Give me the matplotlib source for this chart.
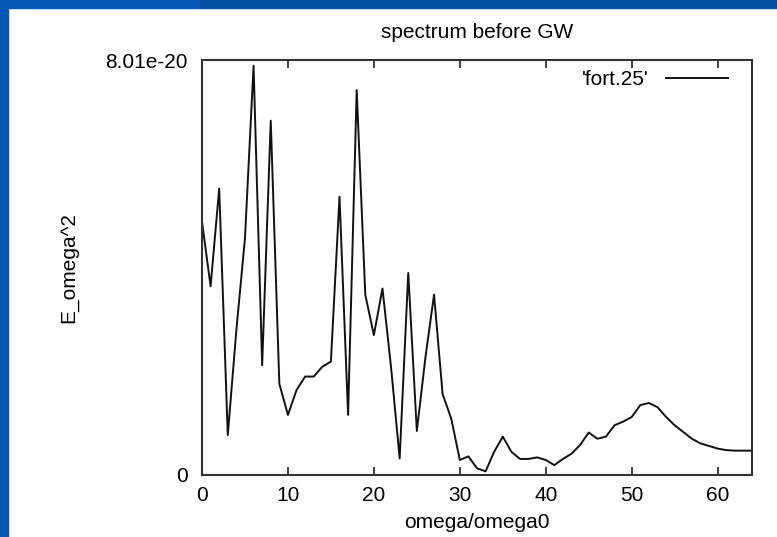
import numpy as np
import matplotlib.pyplot as plt
from matplotlib.patches import Rectangle

plt.rcParams['font.family'] = ['Liberation Sans', 'DejaVu Sans']

# omega/omega0 і значення спектра (в одиницях 1e-20)
omega = np.arange(0, 65)
e_vals = [4.89, 3.64, 5.53, 0.77, 2.80, 4.57, 7.90, 2.12, 6.84, 1.76,
          1.16, 1.64, 1.90, 1.90, 2.09, 2.19, 5.37, 1.16, 7.43, 3.48,
          2.70, 3.60, 2.08, 0.32, 3.90, 0.85, 2.27, 3.48, 1.56, 1.09,
          0.29, 0.36, 0.13, 0.07, 0.45, 0.74, 0.45, 0.31, 0.31, 0.34,
          0.29, 0.19, 0.31, 0.41, 0.58, 0.82, 0.70, 0.74, 0.96, 1.03,
          1.12, 1.35, 1.39, 1.31, 1.12, 0.96, 0.83, 0.70, 0.61, 0.56,
          0.51, 0.48, 0.47, 0.47, 0.47]
spectrum = np.array(e_vals) * 1e-20

y_max = 8.01e-20
x_ticks = [0, 10, 20, 30, 40, 50, 60]
y_ticks = [0, y_max]
y_ticklabels = ['0', '8.01e-20']

fig = plt.figure(figsize=(7.77, 5.37), dpi=100)
fig.patch.set_facecolor('white')

# синя рамка слайда
fig.patches.append(Rectangle((0, 0), 8 / 777, 1, transform=fig.transFigure,
                             color='#0758b4', zorder=-1))
fig.patches.append(Rectangle((0, 1 - 8 / 537), 200 / 777, 8 / 537,
                             transform=fig.transFigure, color='#0758b4', zorder=-1))
fig.patches.append(Rectangle((200 / 777, 1 - 8 / 537), 577 / 777, 8 / 537,
                             transform=fig.transFigure, color='#044ea6', zorder=-1))

ax = fig.add_axes([202 / 777, 62 / 537, 550 / 777, 415 / 537])
ax.plot(omega, spectrum, color='#111111', linewidth=1.4, label="'fort.25'")

ax.set_xlim(0, 64)
ax.set_ylim(0, y_max)
ax.set_xticks(x_ticks)
ax.set_yticks(y_ticks)
ax.set_yticklabels(y_ticklabels)
ax.tick_params(axis='x', direction='in', length=6, width=1.3, top=True,
               labelsize=15, pad=8, color='#333333')
ax.tick_params(axis='y', direction='in', length=0, labelsize=15, pad=10)
for s in ax.spines.values():
    s.set_linewidth(1.5)
    s.set_color('#333333')

ax.set_title('spectrum before GW', fontsize=15, pad=16)
ax.set_xlabel('omega/omega0', fontsize=15, labelpad=6)
ax.set_ylabel('E_omega^2', fontsize=15)
ax.yaxis.set_label_coords(-124 / 550, 0.5)

ax.legend(loc='upper right', bbox_to_anchor=(0.972, 0.995), frameon=False,
          markerfirst=False, fontsize=15, handlelength=3.0,
          borderaxespad=0, handletextpad=0.8)

plt.savefig('out.png', dpi=100)
